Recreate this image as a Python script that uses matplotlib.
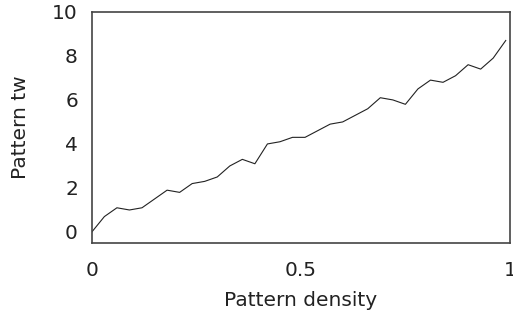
import matplotlib
matplotlib.use("Agg")
import matplotlib.pyplot as plt

density = [0.00, 0.03, 0.06, 0.09, 0.12, 0.15, 0.18, 0.21, 0.24, 0.27,
           0.30, 0.33, 0.36, 0.39, 0.42, 0.45, 0.48, 0.51, 0.54, 0.57,
           0.60, 0.63, 0.66, 0.69, 0.72, 0.75, 0.78, 0.81, 0.84, 0.87,
           0.90, 0.93, 0.96, 0.99]
tw = [0.0, 0.7, 1.1, 1.0, 1.1, 1.5, 1.9, 1.8, 2.2, 2.3,
      2.5, 3.0, 3.3, 3.1, 4.0, 4.1, 4.3, 4.3, 4.6, 4.9,
      5.0, 5.3, 5.6, 6.1, 6.0, 5.8, 6.5, 6.9, 6.8, 7.1,
      7.6, 7.4, 7.9, 8.7]

xticks = [0, 0.5, 1]
xtick_labels = ["0", "0.5", "1"]
yticks = [0, 2, 4, 6, 8, 10]

fig = plt.figure(figsize=(5.13, 3.21), dpi=100)
ax = fig.add_axes([0.179, 0.243, 0.815, 0.72])
ax.plot(density, tw, color="#222222", lw=0.8)

ax.set_xlim(0, 1)
ax.set_ylim(-0.5, 10)
ax.set_xticks(xticks)
ax.set_xticklabels(xtick_labels)
ax.set_yticks(yticks)
ax.tick_params(length=0, labelsize=14.5, colors="#222222")
ax.tick_params(axis="x", pad=13)
ax.tick_params(axis="y", pad=10)
for s in ax.spines.values():
    s.set_color("#444444")
    s.set_linewidth(1.2)

ax.set_xlabel("Pattern density", fontsize=14.5, color="#222222", labelpad=8)
ax.set_ylabel("Pattern tw", fontsize=14.5, color="#222222", labelpad=16)

fig.savefig("out.png", dpi=100)
